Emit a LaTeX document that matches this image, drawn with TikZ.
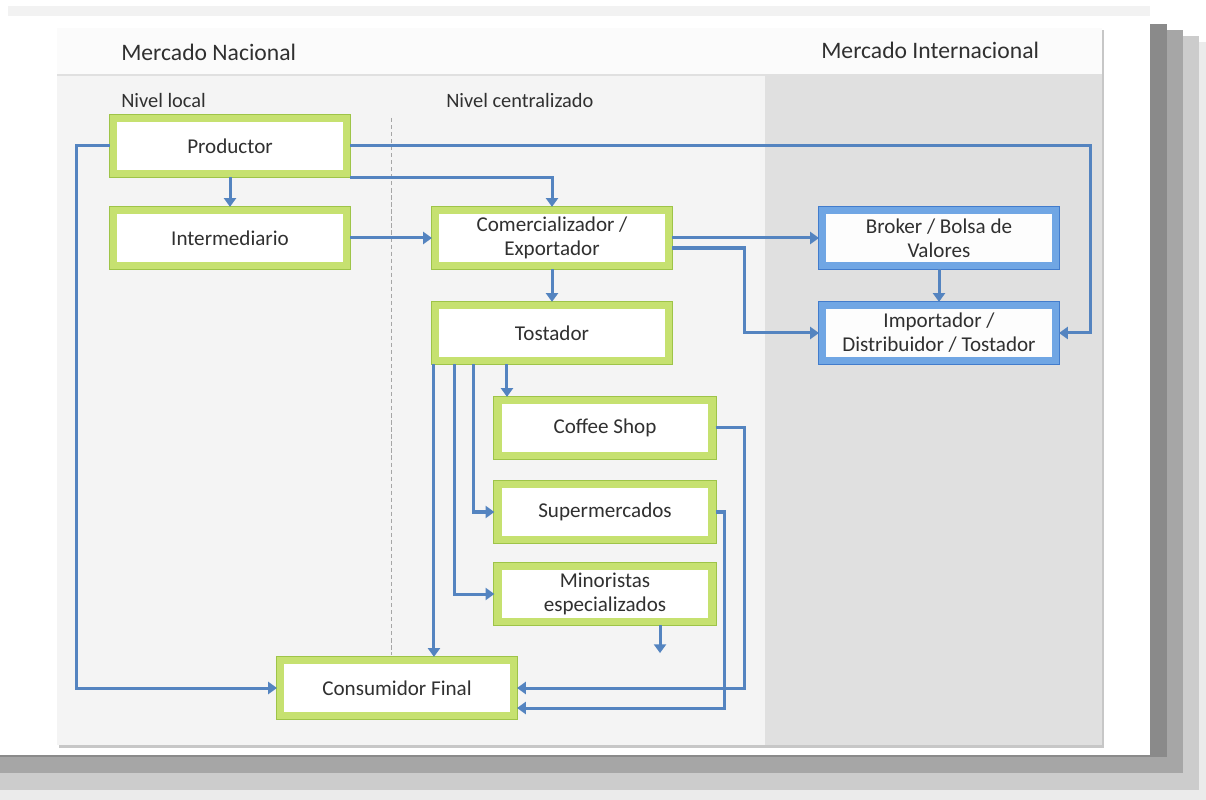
\documentclass[tikz,border=0pt]{standalone}
\usepackage{fontspec}
\setmainfont{Carlito}
\usetikzlibrary{arrows.meta}

\definecolor{rand}{RGB}{198,225,112}
\definecolor{randdonker}{RGB}{158,196,72}
\definecolor{brand}{RGB}{112,166,228}
\definecolor{branddonker}{RGB}{66,124,204}
\definecolor{pijlkleur}{RGB}{84,132,192}
\definecolor{tekst}{RGB}{48,48,48}
\definecolor{paneel}{RGB}{244,244,244}
\definecolor{intern}{RGB}{224,224,224}

\tikzset{
    basis/.style={line width=0.18cm, fill=white!96!paneel, minimum width=5.82cm,
        minimum height=1.375cm, align=center, text=tekst, inner sep=0pt,
        font=\fontsize{15}{17}\selectfont},
    groen/.style={basis, draw=rand, preaction={draw=randdonker, line width=0.23cm}},
    blauw/.style={basis, draw=brand, fill=white!92!intern,
        preaction={draw=branddonker, line width=0.23cm}},
    pijl/.style={draw=pijlkleur, line width=0.075cm,
        -{Triangle[width=0.3cm,length=0.22cm]}},
    kop/.style={anchor=west, text=tekst, inner sep=0pt, font=\fontsize{16.8}{19}\selectfont},
    niveau/.style={anchor=west, text=tekst, inner sep=0pt, font=\fontsize{14.5}{17}\selectfont}
}

\begin{document}
\begin{tikzpicture}[x=0.025cm, y=-0.025cm]
    \useasboundingbox (0,0) rectangle (1206,800);
    % achtergrond en schaduw
    \fill[white] (0,0) rectangle (1206,800);
    \fill[black!8] (0,42) rectangle (1206,800);
    \fill[black!20] (0,36) rectangle (1199,790);
    \fill[black!35] (0,30) rectangle (1183,773);
    \fill[black!46] (0,24) rectangle (1167,757);
    \fill[white] (0,0) rectangle (1150,755);
    \fill[black!5] (8,6) rectangle (1150,16);
    % paneel
    \fill[black!22] (59,30) rectangle (1104,748);
    \fill[paneel] (57,28) rectangle (1102,745);
    \fill[white!60!paneel] (57,28) rectangle (1102,74);
    \draw[black!12, line width=0.04cm] (57,75) -- (1102,75);
    \fill[intern] (765,76) rectangle (1102,745);
    \draw[black!35, densely dashed, line width=0.02cm] (391,118) -- (391,655);
    % koppen
    \node[kop] (mn) at (121,52) {Mercado Nacional};
    \node[kop] (mi) at (821,50) {Mercado Internacional};
    \node[niveau] (nl) at (121,100) {Nivel local};
    \node[niveau] (nc) at (446,100) {Nivel centralizado};
    % blokken
    \node[groen] (prod) at (230,146) {Productor};
    \node[groen] (inter) at (230,238) {Intermediario};
    \node[groen] (com) at (552,238) {Comercializador /\\Exportador};
    \node[groen] (tost) at (552,333) {Tostador};
    \node[groen, minimum width=5.35cm] (cs) at (605,428) {Coffee Shop};
    \node[groen, minimum width=5.35cm] (sm) at (605,512) {Supermercados};
    \node[groen, minimum width=5.35cm] (mino) at (605,594) {Minoristas\\especializados};
    \node[groen] (cons) at (397,688) {Consumidor Final};
    \node[blauw] (brok) at (939,238) {Broker / Bolsa de\\Valores};
    \node[blauw] (imp) at (939,333) {Importador /\\Distribuidor / Tostador};
    % coordinaten
    \coordinate (t1) at ([xshift=0.05cm]tost.south west);
    \coordinate (t2) at ([xshift=0.575cm]tost.south west);
    \coordinate (t3) at ([xshift=1.05cm]tost.south west);
    \coordinate (t4) at ([xshift=1.875cm]tost.south west);
    \coordinate (los) at ([xshift=1.375cm,yshift=-0.7cm]mino.south);
    % pijlen
    \draw[pijl] (prod.west) -- ++(-33,0) |- (cons.west);
    \draw[pijl] (prod.east) -- ++(740,0) |- (imp.east);
    \draw[pijl] (prod) -- (inter);
    \draw[pijl] (prod.south east) -| (com.north);
    \draw[pijl] (inter) -- (com);
    \draw[pijl] (com) -- (tost);
    \draw[pijl] (com) -- (brok);
    \draw[pijl] ([yshift=-0.25cm]com.east) -- ++(72,0) |- (imp.west);
    \draw[pijl] (brok) -- (imp);
    \draw[pijl] (t1) -- (t1 |- cons.north);
    \draw[pijl] (t2) |- (mino.west);
    \draw[pijl] (t3) |- (sm.west);
    \draw[pijl] (t4) -- (t4 |- cs.north);
    \draw[pijl] (cs.east) -- ++(29,0) |- (cons.east);
    \draw[pijl] (sm.east) -- ++(9,0) |- ([yshift=-0.5cm]cons.east);
    \draw[pijl] (los |- mino.south) -- (los);
\end{tikzpicture}
\end{document}
